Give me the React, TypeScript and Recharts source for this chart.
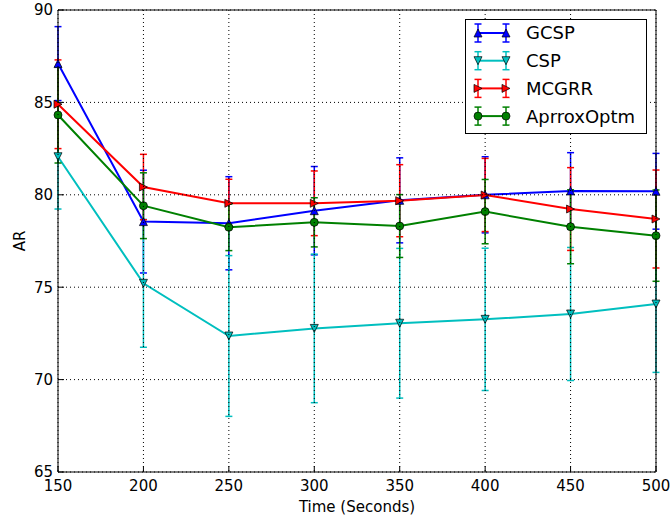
import React from 'react';
import { LineChart, Line, XAxis, YAxis, CartesianGrid, ErrorBar, Legend } from 'recharts';

// time points (seconds)
const times = [150, 200, 250, 300, 350, 400, 450, 500];

// AR means and error (half-width) per algorithm
const gcsp = [87.1, 78.55, 78.46, 79.14, 79.7, 80.0, 80.21, 80.19];
const gcspErr = [2.0, 2.78, 2.52, 2.39, 2.3, 2.06, 2.07, 2.05];
const csp = [82.06, 75.21, 72.36, 72.77, 73.05, 73.26, 73.55, 74.09];
const cspErr = [2.83, 3.46, 4.35, 4.02, 4.05, 3.85, 3.6, 3.7];
const mcgrr = [84.9, 80.42, 79.54, 79.54, 79.68, 79.99, 79.23, 78.69];
const mcgrrErr = [2.4, 1.77, 1.3, 1.75, 1.95, 1.98, 2.24, 2.65];
const approx = [84.32, 79.41, 78.24, 78.51, 78.31, 79.09, 78.27, 77.79];
const approxErr = [2.6, 1.78, 1.26, 1.33, 1.7, 1.74, 2.0, 2.47];

const xTicks = [150, 200, 250, 300, 350, 400, 450, 500];
const yTicks = [65, 70, 75, 80, 85, 90];

const data = times.map((t, i) => ({
  t,
  gcsp: gcsp[i],
  gcspErr: gcspErr[i],
  csp: csp[i],
  cspErr: cspErr[i],
  mcgrr: mcgrr[i],
  mcgrrErr: mcgrrErr[i],
  approx: approx[i],
  approxErr: approxErr[i],
}));

type MarkerKind = 'up' | 'down' | 'right' | 'circle';

const series: { key: string; name: string; color: string; marker: MarkerKind }[] = [
  { key: 'gcsp', name: 'GCSP', color: '#0000ff', marker: 'up' },
  { key: 'csp', name: 'CSP', color: '#00bfbf', marker: 'down' },
  { key: 'mcgrr', name: 'MCGRR', color: '#ff0000', marker: 'right' },
  { key: 'approx', name: 'AprroxOptm', color: '#008000', marker: 'circle' },
];

const FONT = "'DejaVu Sans', sans-serif";

const Marker = ({ kind, x, y, color }: { kind: MarkerKind; x: number; y: number; color: string }) => {
  const s = 4;
  const common = { fill: color, stroke: '#000', strokeWidth: 0.7 };
  if (kind === 'circle') return <circle cx={x} cy={y} r={4} {...common} />;
  let d = '';
  if (kind === 'up') d = `M${x},${y - s}L${x + s},${y + s}L${x - s},${y + s}Z`;
  if (kind === 'down') d = `M${x - s},${y - s}L${x + s},${y - s}L${x},${y + s}Z`;
  if (kind === 'right') d = `M${x - s},${y - s}L${x + s},${y}L${x - s},${y + s}Z`;
  return <path d={d} {...common} />;
};

const makeDot = (kind: MarkerKind, color: string) => (props: any) => {
  const { cx, cy, index } = props;
  if (cx == null || cy == null) return <g key={`d-${index}`} />;
  return (
    <g key={`d-${index}`}>
      <Marker kind={kind} x={cx} y={cy} color={color} />
    </g>
  );
};

const LegendBox = () => (
  <svg width={182} height={115} style={{ display: 'block' }}>
    <rect x={0.5} y={0.5} width={181} height={114} fill="#fff" stroke="#000" strokeWidth={1} />
    {series.map((s, i) => {
      const y = 14 + i * 27.7;
      return (
        <g key={s.key}>
          <line x1={13} x2={41} y1={y} y2={y} stroke={s.color} strokeWidth={2} />
          {[13, 41].map((x) => (
            <g key={x}>
              <line x1={x} x2={x} y1={y - 9} y2={y + 9} stroke={s.color} strokeWidth={1.5} />
              <line x1={x - 3.5} x2={x + 3.5} y1={y - 9} y2={y - 9} stroke={s.color} strokeWidth={1.5} />
              <line x1={x - 3.5} x2={x + 3.5} y1={y + 9} y2={y + 9} stroke={s.color} strokeWidth={1.5} />
              <Marker kind={s.marker} x={x} y={y} color={s.color} />
            </g>
          ))}
          <text x={61} y={y} dy="0.36em" fontSize={18} fontFamily={FONT} fill="#000">
            {s.name}
          </text>
        </g>
      );
    })}
  </svg>
);

const tickStyle = { fontSize: 15, fill: '#000', fontFamily: FONT };

export default function App() {
  return (
    <div style={{ position: 'absolute', left: 0, top: 0, width: 671, height: 520, background: '#fff' }}>
      <LineChart width={671} height={520} data={data} margin={{ top: 9, right: 14, left: 0, bottom: 0 }}>
        <XAxis
          dataKey="t"
          type="number"
          domain={[150, 500]}
          ticks={xTicks}
          height={48}
          tickSize={-6}
          tickMargin={14}
          tick={tickStyle}
          stroke="#000"
          axisLine={{ stroke: '#000', strokeWidth: 1 }}
          label={{ value: 'Time (Seconds)', position: 'insideBottom', offset: 8, style: { fontSize: 15, fill: '#000', fontFamily: FONT } }}
        />
        <XAxis
          xAxisId="top"
          orientation="top"
          dataKey="t"
          type="number"
          domain={[150, 500]}
          ticks={xTicks}
          height={1}
          tickSize={-6}
          tick={false}
          stroke="#000"
        />
        <YAxis
          type="number"
          domain={[65, 90]}
          ticks={yTicks}
          allowDataOverflow
          width={58}
          tickSize={-6}
          tickMargin={11}
          tick={tickStyle}
          stroke="#000"
          label={{ value: 'AR', angle: -90, position: 'insideLeft', offset: 20, style: { fontSize: 15, fill: '#000', fontFamily: FONT, textAnchor: 'middle' } }}
        />
        <YAxis
          yAxisId="right"
          orientation="right"
          type="number"
          domain={[65, 90]}
          ticks={yTicks}
          width={1}
          tickSize={-6}
          tick={false}
          stroke="#000"
        />
        {series.map((s) => (
          <Line
            key={s.key}
            dataKey={s.key}
            name={s.name}
            type="linear"
            stroke={s.color}
            strokeWidth={2}
            dot={makeDot(s.marker, s.color)}
            activeDot={false}
            isAnimationActive={false}
          >
            <ErrorBar dataKey={`${s.key}Err`} width={3.5} stroke={s.color} strokeWidth={1.5} direction="y" />
          </Line>
        ))}
        {/* grid drawn after the series, like the matplotlib original */}
        <CartesianGrid stroke="#000" strokeDasharray="1 3" strokeWidth={1} zIndex={1000} />
        <Legend
          layout="vertical"
          align="center"
          verticalAlign="middle"
          content={() => <LegendBox />}
          wrapperStyle={{ top: 19, left: 465, width: 182, height: 115 }}
        />
      </LineChart>
    </div>
  );
}
